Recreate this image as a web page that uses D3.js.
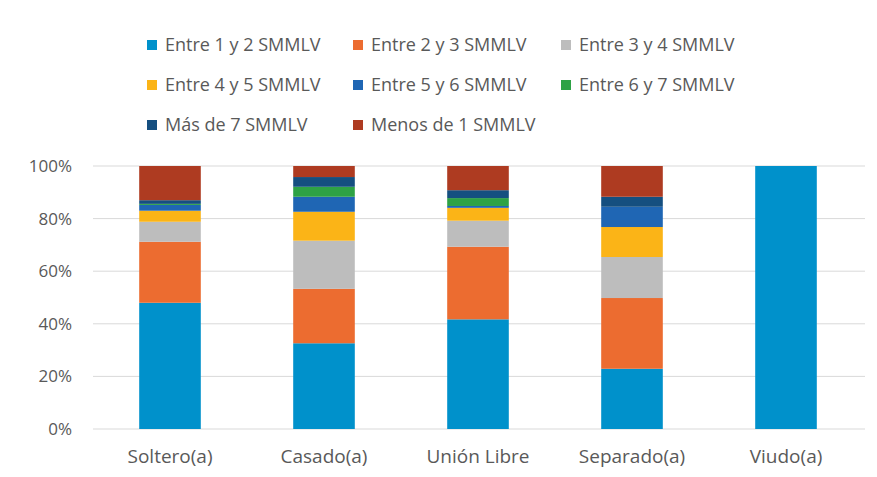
<!DOCTYPE html>
<html><head><meta charset="utf-8">
<script src="https://cdn.jsdelivr.net/npm/d3@7"></script>
<style>body{margin:0;background:#fff}svg{display:block}text{font-family:"Open Sans",sans-serif;fill:#595959}</style>
</head><body><svg id="c" width="877" height="477"></svg>
<script>
const categories = ["Soltero(a)","Casado(a)","Unión Libre","Separado(a)","Viudo(a)"];
const seriesNames = ["Entre 1 y 2 SMMLV","Entre 2 y 3 SMMLV","Entre 3 y 4 SMMLV","Entre 4 y 5 SMMLV","Entre 5 y 6 SMMLV","Entre 6 y 7 SMMLV","Más de 7 SMMLV","Menos de 1 SMMLV"];
const entre1y2 = [48.0, 32.6, 41.7, 22.9, 100];
const entre2y3 = [23.2, 20.7, 27.6, 26.9, 0];
const entre3y4 = [7.6, 18.3, 9.9, 15.6, 0];
const entre4y5 = [4.2, 11.0, 4.9, 11.4, 0];
const entre5y6 = [2.2, 5.7, 0.7, 7.7, 0];
const entre6y7 = [0.4, 3.8, 3.0, 0, 0];
const masDe7 = [1.4, 3.7, 3.0, 3.8, 0];
const menosDe1 = [13.0, 4.2, 9.2, 11.7, 0];
const yTicks = [0, 20, 40, 60, 80, 100];
const colors = ["#0091cb","#ec6c30","#bdbdbd","#fbb417","#1f66b4","#2ea245","#154f80","#ae3b21"];

const seriesValues = [entre1y2, entre2y3, entre3y4, entre4y5, entre5y6, entre6y7, masDe7, menosDe1];
const rows = categories.map((c, i) => {
  const r = {cat: c};
  seriesNames.forEach((s, j) => r[s] = seriesValues[j][i]);
  return r;
});
const stacked = d3.stack().keys(seriesNames)(rows);

const svg = d3.select("#c");
const x = d3.scaleBand().domain(categories).range([93, 863]).paddingInner(0.6).paddingOuter(0.3);
const y = d3.scaleLinear().domain([0, 100]).range([429, 166]);

// grid
svg.append("g").selectAll("line").data(yTicks).join("line")
  .attr("x1", 93).attr("x2", 865)
  .attr("y1", d => y(d)).attr("y2", d => y(d))
  .attr("stroke", "#d9d9d9").attr("stroke-width", 1);

// y labels
const yAxis = svg.append("g").attr("transform", "translate(93,0)")
  .call(d3.axisLeft(y).tickValues(yTicks).tickFormat(d => d + "%").tickSize(0).tickPadding(21));
yAxis.select(".domain").remove();
yAxis.selectAll("text").attr("font-size", 17).attr("fill", "#595959").attr("font-family", "Open Sans");

// bars
svg.append("g").selectAll("g").data(stacked).join("g")
  .attr("fill", (d, i) => colors[i])
  .selectAll("rect").data(d => d).join("rect")
  .attr("x", d => x(d.data.cat))
  .attr("width", x.bandwidth())
  .attr("y", d => y(d[1]))
  .attr("height", d => y(d[0]) - y(d[1]));

// x labels
const xAxis = svg.append("g").attr("transform", "translate(0,429)")
  .call(d3.axisBottom(x).tickSize(0).tickPadding(21));
xAxis.select(".domain").remove();
xAxis.selectAll("text").attr("font-size", 19).attr("fill", "#595959").attr("font-family", "Open Sans");

// legend
const legPos = [[147,45],[353,45],[561,45],[147,85],[353,85],[561,85],[147,125],[353,125]];
const leg = svg.append("g").selectAll("g").data(seriesNames).join("g")
  .attr("transform", (d, i) => `translate(${legPos[i][0]},${legPos[i][1]})`);
leg.append("rect").attr("x", 0).attr("y", -5).attr("width", 10).attr("height", 10)
  .attr("fill", (d, i) => colors[i]);
leg.append("text").attr("x", 18).attr("y", 0).attr("dy", "0.35em")
  .attr("font-size", 18).text(d => d);
</script></body></html>
